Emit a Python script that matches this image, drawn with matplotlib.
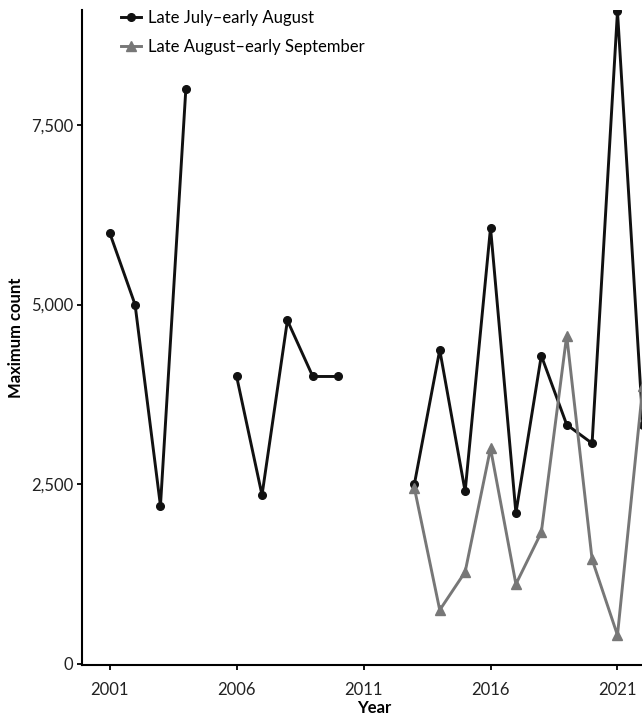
import numpy as np
import matplotlib
matplotlib.use("Agg")
import matplotlib.pyplot as plt
from matplotlib.ticker import FuncFormatter

plt.rcParams['font.family'] = ['Lato', 'DejaVu Sans']

years = list(range(2001, 2023))
late_july = [6000, 5000, 2200, 8000, np.nan, 4000, 2350, 4780, 4000, 4000,
             np.nan, np.nan, 2500, 4370, 2400, 6070, 2100, 4290, 3330, 3070,
             9080, 3320]
gray_years = list(range(2013, 2023))
late_aug = [2450, 750, 1280, 3000, 1110, 1830, 4570, 1455, 400, 3870]

series_labels = ["Late July\u2013early August", "Late August\u2013early September"]
xticks = [2001, 2006, 2011, 2016, 2021]
yticks = [0, 2500, 5000, 7500]

W, H = 642, 717
fig = plt.figure(figsize=(W / 100, H / 100), dpi=100)

ppy = 25.39
x0, x1 = 1999.91, 2022.9
left_px, bottom_px, top_px = 82, 665, 10
ax = fig.add_axes([left_px / W, (H - bottom_px) / H,
                   (x1 - x0) * ppy / W, (bottom_px - top_px) / H])

ax.plot(years, late_july, color='#111111', lw=2.1, marker='o', ms=5.5,
        label=series_labels[0], solid_joinstyle='miter')
ax.plot(gray_years, late_aug, color='#777777', lw=2.1, marker='^', ms=6.5,
        label=series_labels[1], solid_joinstyle='miter')

ax.set_xlim(x0, x1)
ax.set_ylim(-15, 9100)
ax.set_xticks(xticks)
ax.set_yticks(yticks)
ax.yaxis.set_major_formatter(FuncFormatter(lambda v, p: f"{int(v):,}"))

for s in ['top', 'right']:
    ax.spines[s].set_visible(False)
for s in ['left', 'bottom']:
    ax.spines[s].set_linewidth(1.5)
    ax.spines[s].set_color('black')
ax.tick_params(axis='both', length=3.5, width=1.3, color='black',
               labelsize=12, labelcolor='#222222')
ax.tick_params(axis='x', pad=9)
ax.tick_params(axis='y', pad=3)

ax.set_xlabel("Year", fontsize=12, fontweight='bold', labelpad=1)
ax.set_ylabel("Maximum count", fontsize=12, fontweight='bold', labelpad=5)

leg = ax.legend(loc='upper left', bbox_to_anchor=(0.055, 1.01), frameon=False,
                fontsize=12, handlelength=1.2, handletextpad=0.45,
                labelspacing=0.75, borderaxespad=0)

fig.savefig("out.png", dpi=100)
